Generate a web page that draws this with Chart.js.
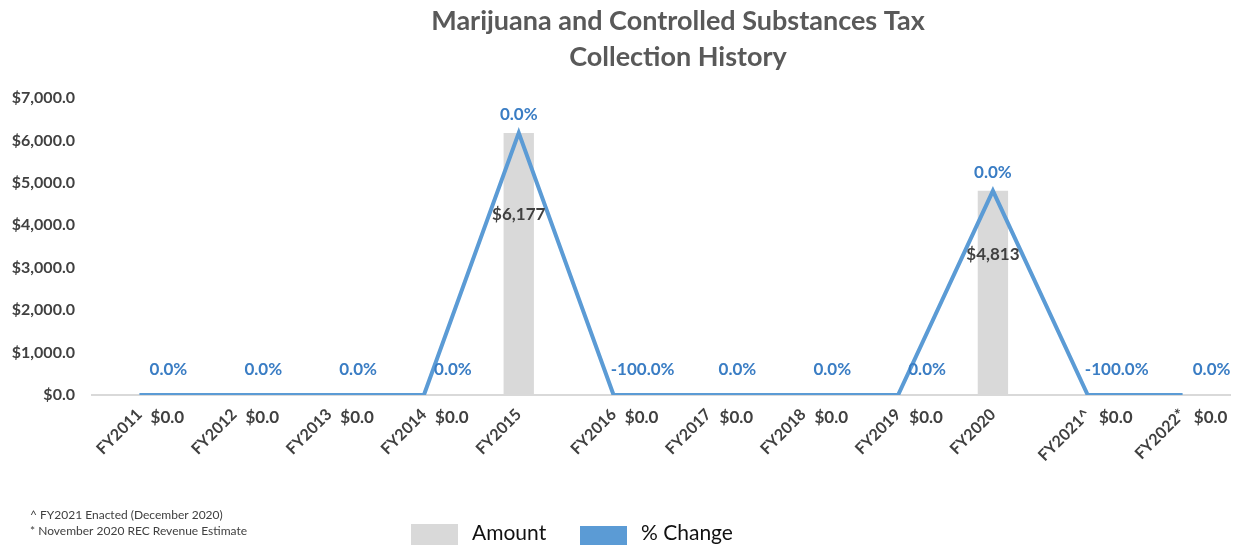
<!DOCTYPE html>
<html>
<head>
<meta charset="utf-8">
<script src="https://cdn.jsdelivr.net/npm/chart.js@4"></script>
<style>
  html, body { margin: 0; padding: 0; background: #fff; }
  #wrap { width: 1237px; height: 545px; position: relative; }
</style>
</head>
<body>
<div id="wrap"><canvas id="chart"></canvas></div>
<script>
// Data
const fiscalYears = ['FY2011', 'FY2012', 'FY2013', 'FY2014', 'FY2015', 'FY2016',
  'FY2017', 'FY2018', 'FY2019', 'FY2020', 'FY2021^', 'FY2022*'];
const amounts = [0, 0, 0, 0, 6177, 0, 0, 0, 0, 4813, 0, 0];
const pctChange = [0, 0, 0, 0, 0, -100, 0, 0, 0, 0, -100, 0];
const yTicks = [0, 1000, 2000, 3000, 4000, 5000, 6000, 7000];
const titleLines = ['Marijuana and Controlled Substances Tax', 'Collection History'];
const footnotes = ['^ FY2021 Enacted (December 2020)', '* November 2020 REC Revenue Estimate'];

const FONT = "Lato, 'Open Sans', sans-serif";
const GRAY_BAR = '#d9d9d9';
const BLUE = '#5b9bd5';
const BLUE_TEXT = '#3a7dc4';
const DARK = '#404040';

const fmtMoney = v => '$' + v.toLocaleString('en-US', { minimumFractionDigits: 1, maximumFractionDigits: 1 });
const fmtAmount = v => v === 0 ? '$0.0' : '$' + Math.round(v).toLocaleString('en-US');
const fmtPct = v => v.toFixed(1) + '%';

// draws data labels, title, footnotes and legend
const decorPlugin = {
  id: 'decor',
  afterDatasetsDraw(chart) {
    const { ctx } = chart;
    ctx.save();
    ctx.textAlign = 'center';
    ctx.textBaseline = 'middle';

    // amount labels on bars
    const barMeta = chart.getDatasetMeta(0);
    ctx.font = 'bold 17px ' + FONT;
    ctx.fillStyle = DARK;
    barMeta.data.forEach((bar, i) => {
      const v = amounts[i];
      if (v === 0) {
        ctx.fillText(fmtAmount(v), bar.x + 28, bar.base + 23);
      } else {
        ctx.fillText(fmtAmount(v), bar.x, bar.y + (bar.base - bar.y) * 0.31);
      }
    });

    // % change labels on line points
    const lineMeta = chart.getDatasetMeta(1);
    ctx.fillStyle = BLUE_TEXT;
    lineMeta.data.forEach((pt, i) => {
      const txt = fmtPct(pctChange[i]);
      if (amounts[i] === 0) {
        ctx.fillText(txt, pt.x + 29, pt.y - 25);
      } else {
        ctx.fillText(txt, pt.x, pt.y - 18);
      }
    });
    ctx.restore();
  },
  afterDraw(chart) {
    const { ctx } = chart;
    ctx.save();
    ctx.textBaseline = 'middle';

    // title
    ctx.textAlign = 'center';
    ctx.fillStyle = '#595959';
    ctx.font = 'bold 27px ' + FONT;
    titleLines.forEach((t, i) => ctx.fillText(t, 678, 21 + i * 36));

    // footnotes
    ctx.textAlign = 'left';
    ctx.fillStyle = DARK;
    ctx.font = '12px ' + FONT;
    footnotes.forEach((t, i) => ctx.fillText(t, 30, 515 + i * 16));

    // legend
    ctx.font = '21px ' + FONT;
    const items = [
      { x: 411, top: 524, color: GRAY_BAR, label: chart.data.datasets[0].label },
      { x: 580, top: 526, color: BLUE, label: chart.data.datasets[1].label }
    ];
    items.forEach(it => {
      ctx.fillStyle = it.color;
      ctx.fillRect(it.x, it.top, 47, 545 - it.top);
      ctx.fillStyle = '#111';
      ctx.fillText(it.label, it.x + 61, 533);
    });
    ctx.restore();
  }
};

new Chart(document.getElementById('chart'), {
  data: {
    labels: fiscalYears,
    datasets: [
      {
        type: 'bar',
        label: 'Amount',
        data: amounts,
        backgroundColor: GRAY_BAR,
        categoryPercentage: 1,
        barPercentage: 0.32,
        order: 2
      },
      {
        type: 'line',
        label: '% Change',
        data: amounts,
        borderColor: BLUE,
        backgroundColor: BLUE,
        borderWidth: 4,
        pointRadius: 0,
        tension: 0,
        order: 1
      }
    ]
  },
  options: {
    responsive: true,
    maintainAspectRatio: false,
    animation: false,
    layout: { padding: { top: 98, right: 7, bottom: 80, left: 0 } },
    plugins: {
      legend: { display: false },
      title: { display: false },
      tooltip: { enabled: false }
    },
    scales: {
      x: {
        offset: true,
        grid: { display: false, drawTicks: false },
        border: { display: true, color: GRAY_BAR, width: 2 },
        ticks: {
          minRotation: 45,
          maxRotation: 45,
          padding: 10,
          color: DARK,
          font: { family: FONT, size: 16, weight: 'bold' }
        },
        afterFit: axis => { axis.height = 70; }
      },
      y: {
        min: 0,
        max: 7000,
        afterBuildTicks: axis => { axis.ticks = yTicks.map(v => ({ value: v })); },
        grid: { display: false, drawTicks: false },
        border: { display: false },
        ticks: {
          padding: 17,
          color: DARK,
          font: { family: FONT, size: 16, weight: 'bold' },
          callback: v => fmtMoney(v)
        },
        afterFit: axis => { axis.width = 92; }
      }
    }
  },
  plugins: [decorPlugin]
});
</script>
</body>
</html>
